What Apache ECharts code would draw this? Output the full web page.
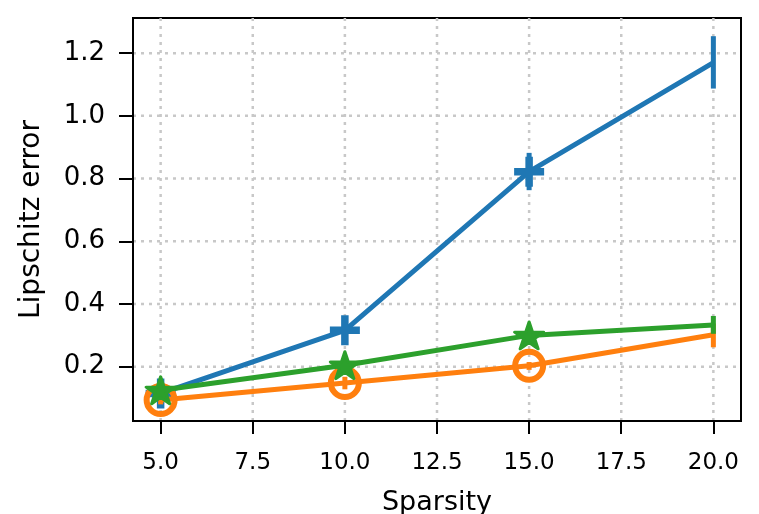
<!DOCTYPE html>
<html><head><meta charset="utf-8">
<script src="https://cdn.jsdelivr.net/npm/echarts@6/dist/echarts.min.js"></script>
<style>html,body{margin:0;padding:0;background:#fff}#c{width:759px;height:514px}</style>
</head><body><div id="c"></div>
<script>
const xs = [5, 10, 15, 20];
const xTicks = [5, 7.5, 10, 12.5, 15, 17.5, 20];
const yTicks = [0.2, 0.4, 0.6, 0.8, 1.0, 1.2];
const blue = [0.115, 0.316, 0.822, 1.170];
const blueLo = [0.095, 0.290, 0.763, 1.087];
const blueHi = [0.135, 0.345, 0.882, 1.254];
const orange = [0.094, 0.148, 0.203, 0.302];
const orangeLo = [0.080, 0.128, 0.190, 0.262];
const orangeHi = [0.110, 0.168, 0.215, 0.338];
const green = [0.125, 0.205, 0.300, 0.333];
const greenLo = [0.110, 0.190, 0.285, 0.305];
const greenHi = [0.140, 0.220, 0.315, 0.362];

const FONT = 'DejaVu Sans';
const C = {blue:'#1f77b4', orange:'#ff7f0e', green:'#2ca02c'};
const PLUS = 'path://M-1.25,-5H1.25V-1.25H5V1.25H1.25V5H-1.25V1.25H-5V-1.25H-1.25Z';
const STAR = 'path://M0,-100L22.45,-30.9L95.11,-30.9L36.33,11.8L58.78,80.9L0,38.2L-58.78,80.9L-36.33,11.8L-95.11,-30.9L-22.45,-30.9Z';

function lineData(vals) {
  return vals.map((v, i) => i === vals.length - 1
    ? {value: [xs[i], v], symbol: 'none'}
    : {value: [xs[i], v]});
}
function errSeries(lo, hi, color, z) {
  return {
    type: 'custom', silent: true, z: z,
    data: xs.map((x, i) => [x, lo[i], hi[i]]),
    renderItem: (params, api) => {
      const a = api.coord([api.value(0), api.value(1)]);
      const b = api.coord([api.value(0), api.value(2)]);
      const w = 5;
      return {type: 'rect', shape: {x: a[0] - w / 2, y: b[1], width: w, height: a[1] - b[1]},
        style: {fill: color, stroke: null}};
    }
  };
}
function gridSeries(ticks, vertical) {
  return {
    type: 'custom', silent: true, z: 0,
    data: ticks.map(v => [v]),
    encode: vertical ? {x: 0} : {y: 0},
    renderItem: (params, api) => {
      const cs = params.coordSys;
      let shape;
      if (vertical) {
        const p = api.coord([api.value(0), 0.5]);
        shape = {x1: p[0], y1: cs.y, x2: p[0], y2: cs.y + cs.height};
      } else {
        const p = api.coord([10, api.value(0)]);
        shape = {x1: cs.x, y1: p[1], x2: cs.x + cs.width, y2: p[1]};
      }
      return {type: 'line', shape: shape,
        style: {stroke: '#c8c8c8', lineWidth: 2.5, lineDash: [3, 5]}};
    }
  };
}
const chart = echarts.init(document.getElementById('c'), null, {renderer: 'canvas'});
chart.setOption({
  animation: false,
  grid: {left: 133, right: 18, top: 18, bottom: 93, show: true, borderColor: '#000', borderWidth: 2,
    backgroundColor: 'transparent', containLabel: false, outerBoundsMode: 'none'},
  xAxis: {
    type: 'value', min: 4.25, max: 20.75,
    name: 'Sparsity', nameLocation: 'middle', nameGap: 68,
    nameTextStyle: {fontFamily: FONT, fontSize: 27, color: '#000'},
    axisLine: {show: true, lineStyle: {color: '#000', width: 2}},
    axisTick: {show: true, length: 13, lineStyle: {color: '#000', width: 2}, customValues: xTicks},
    axisLabel: {fontFamily: FONT, fontSize: 23, color: '#000', margin: 31, customValues: xTicks,
      formatter: v => Number(v).toFixed(1)},
    splitLine: {show: false}
  },
  yAxis: {
    type: 'value', min: 0.027, max: 1.312,
    name: 'Lipschitz error', nameLocation: 'middle', nameGap: 87,
    nameTextStyle: {fontFamily: FONT, fontSize: 28, color: '#000'},
    axisLine: {show: true, lineStyle: {color: '#000', width: 2}},
    axisTick: {show: true, length: 14, lineStyle: {color: '#000', width: 2}, customValues: yTicks},
    axisLabel: {fontFamily: FONT, fontSize: 26, color: '#000', margin: 28, customValues: yTicks,
      formatter: v => Number(v).toFixed(1)},
    splitLine: {show: false}
  },
  series: [
    gridSeries(xTicks, true),
    gridSeries(yTicks, false),
    errSeries(blueLo, blueHi, C.blue, 2),
    {type: 'line', z: 2, data: lineData(blue), symbol: PLUS, symbolSize: 30, showAllSymbol: true,
      itemStyle: {color: C.blue}, lineStyle: {color: C.blue, width: 5}},
    errSeries(orangeLo, orangeHi, C.orange, 3),
    {type: 'line', z: 3, data: lineData(orange), symbol: 'circle', symbolSize: 28, showAllSymbol: true,
      itemStyle: {color: 'rgba(0,0,0,0)', borderColor: C.orange, borderWidth: 6}, lineStyle: {color: C.orange, width: 5}},
    errSeries(greenLo, greenHi, C.green, 4),
    {type: 'line', z: 4, data: lineData(green), symbol: STAR, symbolSize: [29, 27], showAllSymbol: true,
      itemStyle: {color: C.green, borderColor: C.green, borderWidth: 3, borderJoin: 'round'}, lineStyle: {color: C.green, width: 5}}
  ]
});
</script></body></html>
